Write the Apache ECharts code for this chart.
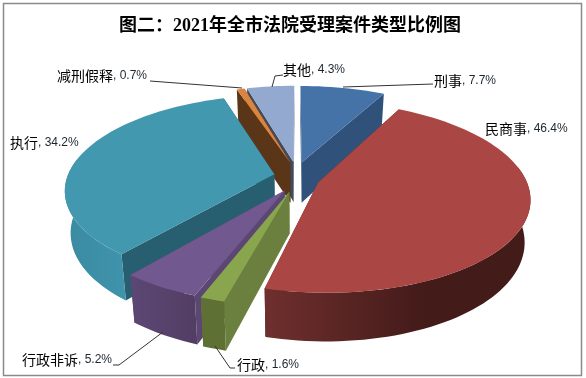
<!DOCTYPE html>
<html>
<head>
<meta charset="utf-8">
<style>
html, body { margin: 0; padding: 0; background: #fff; }
#chart { width: 586px; height: 378px; }
</style>
</head>
<body>
<div id="chart"></div>
<script src="https://cdn.jsdelivr.net/npm/echarts@6/dist/echarts.min.js"></script>
<script>
// 案件类型与比例
const categories = ['刑事', '民商事', '行政', '行政非诉', '执行', '减刑假释', '其他']
const shares = [7.7, 46.4, 1.6, 5.2, 34.2, 0.7, 4.3]

// 颜色：顶面、切面、外侧（左、右）
const topColors = ['#4572a7', '#aa4643', '#89a54e', '#71588f', '#4198af', '#db843d', '#93a9cf']
const cutColors = ['#30527a', '#5a2523', '#6b7f3e', '#5b4674', '#285f70', '#5b3517', '#414b5e']
const rimLeft = ['#30527a', '#6f2f2e', '#5f7035', '#5c4775', '#3f93ab', '#5b3517', '#414b5e']
const rimRight = ['#30527a', '#431b19', '#5f7035', '#523e63', '#3a8ba2', '#5b3517', '#414b5e']

// 透视饼图参数
const view = { cx: 296.5, cy: 177, rx: 207, ry: 92, depth: 41, persp: 0.149, explodeX: 0.11, explodeY: 0.165, baseScale: 0.975 }

// 标签位置与引导线
const labelPos = [
    { x: 434, y: 81, line: [[433, 84], [343, 87]] },
    { x: 485, y: 129, line: null },
    { x: 237, y: 365, line: [[235, 368], [230, 368], [215, 346]] },
    { x: 22, y: 360, line: [[113, 365], [119, 365], [163, 332]] },
    { x: 10, y: 143, line: null },
    { x: 57, y: 76, line: [[150, 81], [242, 88]] },
    { x: 283, y: 70, line: [[283, 75], [275, 76], [272, 87]] }
]

const total = shares.reduce((a, b) => a + b, 0)
const rad = d => d * Math.PI / 180

let acc = 0
const slices = shares.map((v, i) => {
    const start = acc / total * 360
    acc += v
    const end = acc / total * 360
    const mid = rad((start + end) / 2)
    return {
        i, start, end,
        ex: view.explodeX * Math.sin(mid),
        ey: -view.explodeY * Math.cos(mid)
    }
})

// 平面坐标投影到屏幕，down 为 1 时取底面，底面离视点更远，略向中心收
function project (sl, X, Y, down) {
    const Yt = Y + sl.ey
    const s = 1 / (1 - view.persp * Yt)
    const px = view.rx * (X * s + sl.ex * s * s) * (down ? view.baseScale : 1)
    return [view.cx + px, view.cy + view.ry * Yt * s + view.depth * s * down]
}
function apex (sl, down) {
    return project(sl, 0, 0, down)
}
function rim (sl, deg, down) {
    return project(sl, Math.sin(rad(deg)), -Math.cos(rad(deg)), down)
}
function arc (sl, from, to, down) {
    const pts = []
    const n = Math.max(2, Math.ceil(Math.abs(to - from) / 2))
    for (let k = 0; k <= n; k++) {
        pts.push(rim(sl, from + (to - from) * k / n, down))
    }
    return pts
}
function face (points, fill) {
    return { type: 'polygon', shape: { points }, style: { fill } }
}

// 从后往前画
const drawOrder = slices.slice().sort((a, b) => a.ey - b.ey)

function renderSlice (params, api) {
    const sl = drawOrder[api.value(0)]
    const children = []
    // 两个切面
    const cuts = [sl.start, sl.end]
    cuts.forEach(deg => {
        children.push(face([apex(sl, 0), rim(sl, deg, 0), rim(sl, deg, 1), apex(sl, 1)], cutColors[sl.i]))
    })
    // 外侧
    const from = Math.max(sl.start, 80)
    const to = Math.min(sl.end, 280)
    if (to > from) {
        const pts = arc(sl, from, to, 0).concat(arc(sl, to, from, 1))
        children.push(face(pts, new echarts.graphic.LinearGradient(0, 0, 1, 0, [
            { offset: 0, color: sl.i === 4 ? rimRight[sl.i] : rimLeft[sl.i] },
            { offset: sl.i === 1 ? 0.6 : 1, color: sl.i === 4 ? rimLeft[sl.i] : rimRight[sl.i] },
            { offset: 1, color: sl.i === 4 ? rimLeft[sl.i] : rimRight[sl.i] }
        ])))
    }
    // 顶面
    children.push(face([apex(sl, 0)].concat(arc(sl, sl.start, sl.end, 0)), topColors[sl.i]))
    return { type: 'group', children }
}

function renderLabel (params, api) {
    const i = api.value(0)
    const pos = labelPos[i]
    const children = [{
        type: 'text',
        x: pos.x,
        y: pos.y,
        style: {
            text: '{n|' + categories[i] + '}{v|, ' + shares[i].toFixed(1) + '%}',
            verticalAlign: 'middle',
            rich: {
                n: { fontFamily: 'Noto Sans CJK SC', fontSize: 14, fill: '#000' },
                v: { fontFamily: 'Liberation Sans', fontSize: 12, fill: '#1c2630' }
            }
        }
    }]
    if (pos.line) {
        children.push({
            type: 'polyline',
            shape: { points: pos.line },
            style: { stroke: '#333', lineWidth: 1, fill: null }
        })
    }
    return { type: 'group', children }
}

const myChart = echarts.init(document.getElementById('chart'), null, { renderer: 'canvas' })
myChart.setOption({
    animation: false,
    title: {
        text: '图二：2021年全市法院受理案件类型比例图',
        left: 114,
        top: 12,
        textStyle: {
            fontFamily: '"Liberation Serif", "Noto Sans CJK SC"',
            fontWeight: 'bold',
            fontSize: 18,
            color: '#000'
        }
    },
    graphic: [{
        type: 'rect',
        shape: { x: 3.5, y: 3.5, width: 578, height: 372 },
        style: { fill: null, stroke: '#8a8a8a', lineWidth: 1.5 },
        silent: true
    }],
    series: [{
        type: 'custom',
        coordinateSystem: 'none',
        silent: true,
        renderItem: renderSlice,
        data: drawOrder.map((s, k) => [k])
    }, {
        type: 'custom',
        coordinateSystem: 'none',
        silent: true,
        z: 5,
        renderItem: renderLabel,
        data: categories.map((c, i) => [i])
    }]
})
</script>
</body>
</html>
